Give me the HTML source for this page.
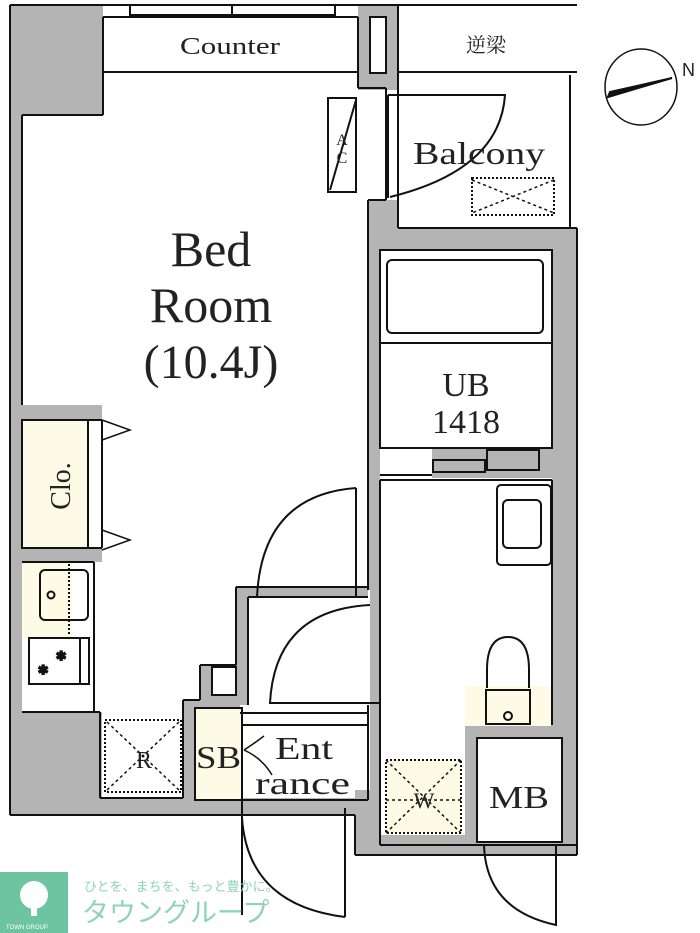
<!DOCTYPE html>
<html><head><meta charset="utf-8"><style>
html,body{margin:0;padding:0;background:#fff;width:700px;height:933px;overflow:hidden}
svg{display:block}
text{font-family:"Liberation Serif","Noto Serif CJK SC",serif;fill:#222}
</style></head><body>
<svg width="700" height="933" viewBox="0 0 700 933" xmlns="http://www.w3.org/2000/svg">
<g fill="#b4b4b4" stroke="none">
<rect x="10" y="5" width="12" height="810"/>
<rect x="10" y="5" width="93" height="110"/>
<rect x="10" y="712" width="92" height="103"/>
<rect x="100" y="798" width="270" height="17"/>
<rect x="358" y="5" width="40" height="85"/>
<rect x="368" y="200" width="30" height="50"/>
<rect x="368" y="200" width="12" height="390"/>
<rect x="368" y="228" width="208" height="22"/>
<rect x="370" y="250" width="10" height="595"/>
<rect x="552" y="228" width="24" height="627"/>
<rect x="355" y="790" width="25" height="65"/>
<rect x="370" y="835" width="206" height="20"/>
<rect x="465" y="725" width="90" height="15"/>
<rect x="465" y="725" width="12" height="125"/>
<rect x="10" y="405" width="92" height="15"/>
<rect x="10" y="548" width="92" height="14"/>
<polygon points="236,587 368,587 368,597 248,597 248,705 240,705 240,713 195,713 195,800 183,800 183,700 200,700 200,665 236,665"/>
<rect x="432" y="448" width="120" height="30"/>
</g>
<rect x="212" y="667" width="24" height="28" fill="#fff"/>
<g fill="#fdfbe6" stroke="none">
<rect x="22" y="420" width="66" height="128"/>
<rect x="22" y="562" width="50" height="76"/>
<rect x="195" y="708" width="47" height="92"/>
<rect x="386" y="760" width="75" height="73"/>
<rect x="465" y="686" width="86" height="40"/>
</g>
<g fill="none" stroke="#111" stroke-width="2">
<line x1="10" y1="5" x2="577" y2="5"/>
<line x1="10" y1="5" x2="10" y2="815"/>
<line x1="22" y1="115" x2="22" y2="405"/>
<line x1="22" y1="115" x2="103" y2="115"/>
<line x1="103" y1="17" x2="103" y2="115"/>
<rect x="130" y="5" width="205" height="10" fill="#fff"/>
<line x1="232" y1="5" x2="232" y2="15"/>
<line x1="103" y1="17" x2="358" y2="17"/>
<line x1="103" y1="72" x2="358" y2="72"/>
<line x1="358" y1="17" x2="358" y2="88"/>
<rect x="370" y="17" width="16" height="56" fill="#fff"/>
<line x1="398" y1="5" x2="398" y2="90"/>
<line x1="398" y1="72" x2="577" y2="72"/>
<line x1="358" y1="88" x2="386" y2="88"/>
<line x1="386" y1="88" x2="386" y2="200"/>
<line x1="368" y1="200" x2="386" y2="200"/>
<line x1="368" y1="200" x2="368" y2="590"/>
<line x1="388" y1="95" x2="388" y2="198"/>
<line x1="398" y1="90" x2="398" y2="228"/>
<line x1="570" y1="75" x2="570" y2="228"/>
<line x1="398" y1="228" x2="577" y2="228"/>
<line x1="577" y1="228" x2="577" y2="855"/>
<rect x="328" y="98" width="28" height="94" fill="#fff"/>
<line x1="356" y1="100" x2="330" y2="190"/>
<path d="M388 95 L505 95 Q500 170 390 197"/>
<rect x="380" y="250" width="172" height="198" fill="#fff"/>
<rect x="387" y="260" width="156" height="73" rx="5"/>
<line x1="380" y1="343" x2="552" y2="343"/>
<rect x="433" y="460" width="52" height="12"/>
<rect x="487" y="450" width="52" height="20"/>
<line x1="380" y1="475" x2="432" y2="475"/>
<line x1="380" y1="480" x2="552" y2="480"/>
<line x1="380" y1="480" x2="380" y2="845"/>
<line x1="552" y1="480" x2="552" y2="725"/>
<rect x="497" y="485" width="54" height="80" rx="4"/>
<rect x="503" y="500" width="38" height="48" rx="5"/>
<path d="M487 688 L487 670 Q487 637 508 637 Q529 637 529 670 L529 688"/>
<rect x="486" y="690" width="44" height="34"/>
<circle cx="508" cy="716" r="4"/>
<line x1="380" y1="845" x2="577" y2="845"/>
<rect x="477" y="738" width="85" height="104" fill="#fff"/>
<rect x="386" y="760" width="75" height="73" stroke-dasharray="2 2"/>
<line x1="386" y1="760" x2="461" y2="833" stroke-dasharray="3 3" stroke-width="1.5"/>
<line x1="461" y1="760" x2="386" y2="833" stroke-dasharray="3 3" stroke-width="1.5"/>
<line x1="386" y1="800" x2="461" y2="800" stroke-dasharray="3 3" stroke-width="1.5"/>
<path d="M484 845 Q486 910 556 925 L556 845"/>
<rect x="472" y="178" width="82" height="37" stroke-dasharray="2 2"/>
<line x1="472" y1="180" x2="554" y2="213" stroke-dasharray="3 3" stroke-width="1.5"/>
<line x1="554" y1="180" x2="472" y2="213" stroke-dasharray="3 3" stroke-width="1.5"/>
<rect x="22" y="420" width="66" height="128"/>
<line x1="88" y1="420" x2="102" y2="420"/>
<line x1="102" y1="420" x2="102" y2="548"/>
<line x1="88" y1="548" x2="102" y2="548"/>
<path d="M102 420 L130 430 L102 440 M102 530 L130 540 L102 550" stroke-width="1.5"/>
<line x1="22" y1="562" x2="94" y2="562"/>
<line x1="22" y1="712" x2="100" y2="712"/>
<line x1="94" y1="562" x2="94" y2="712"/>
<rect x="40" y="570" width="48" height="50" rx="5"/>
<circle cx="51" cy="595" r="3.5"/>
<line x1="69" y1="564" x2="69" y2="636" stroke-dasharray="2 2"/>
<rect x="29" y="638" width="60" height="46"/>
<line x1="80" y1="638" x2="80" y2="684"/>
<text x="56" y="660" font-size="12" fill="#111" style="font-family:'DejaVu Sans',sans-serif">✲</text>
<text x="38" y="674" font-size="12" fill="#111" style="font-family:'DejaVu Sans',sans-serif">✲</text>
<line x1="100" y1="712" x2="100" y2="798"/>
<line x1="100" y1="798" x2="183" y2="798"/>
<line x1="183" y1="700" x2="183" y2="798"/>
<rect x="105" y="720" width="76" height="72" stroke-dasharray="2 2"/>
<line x1="107" y1="722" x2="179" y2="790" stroke-dasharray="3 3" stroke-width="1.5"/>
<line x1="179" y1="722" x2="107" y2="790" stroke-dasharray="3 3" stroke-width="1.5"/>
<line x1="183" y1="700" x2="200" y2="700"/>
<line x1="200" y1="665" x2="200" y2="700"/>
<line x1="200" y1="665" x2="236" y2="665"/>
<line x1="236" y1="587" x2="236" y2="665"/>
<line x1="236" y1="587" x2="368" y2="587"/>
<rect x="212" y="667" width="24" height="28"/>
<rect x="195" y="708" width="47" height="92"/>
<line x1="248" y1="597" x2="248" y2="705"/>
<line x1="248" y1="597" x2="368" y2="597"/>
<line x1="356" y1="488" x2="356" y2="597"/>
<path d="M356 488 Q262 495 257 597"/>
<path d="M370 605 Q275 610 270 703 L380 703"/>
<line x1="240" y1="713" x2="368" y2="713"/>
<line x1="242" y1="725" x2="368" y2="725"/>
<line x1="368" y1="705" x2="368" y2="800"/>
<line x1="242" y1="800" x2="368" y2="800"/>
<line x1="242" y1="713" x2="242" y2="915"/>
<line x1="10" y1="815" x2="355" y2="815"/>
<line x1="355" y1="815" x2="355" y2="855"/>
<line x1="355" y1="855" x2="577" y2="855"/>
<line x1="345" y1="808" x2="345" y2="917"/>
<path d="M242 818 Q248 905 345 917"/>
<path d="M244 750 Q252 745 264 736 M244 750 Q262 758 272 775" stroke-width="1.5"/>
<ellipse cx="641" cy="87" rx="36" ry="38" stroke-width="1.5"/>
<path d="M608 97 L672 78 L610 92 Z" fill="#111"/>
</g>
<text x="180" y="54" font-size="24" textLength="100" lengthAdjust="spacingAndGlyphs">Counter</text>
<text x="486" y="52" font-size="20" text-anchor="middle">逆梁</text>
<text x="682" y="76" font-size="18" style="font-family:'Liberation Sans',sans-serif">N</text>
<text x="342" y="145" font-size="16" text-anchor="middle">A</text>
<text x="342" y="163" font-size="16" text-anchor="middle">C</text>
<text x="413" y="164" font-size="32" textLength="132" lengthAdjust="spacingAndGlyphs">Balcony</text>
<text x="211" y="266" font-size="50" text-anchor="middle">Bed</text>
<text x="211" y="322" font-size="50" text-anchor="middle">Room</text>
<text x="211" y="378" font-size="48" text-anchor="middle">(10.4J)</text>
<text x="466" y="396" font-size="34" text-anchor="middle">UB</text>
<text x="466" y="433" font-size="34" text-anchor="middle">1418</text>
<text transform="translate(70,486) rotate(-90)" font-size="28" text-anchor="middle">Clo.</text>
<text x="144" y="768" font-size="24" text-anchor="middle">R</text>
<text x="196" y="768" font-size="32" textLength="45" lengthAdjust="spacingAndGlyphs">SB</text>
<text x="275" y="759" font-size="32" textLength="58" lengthAdjust="spacingAndGlyphs">Ent</text>
<text x="255" y="794" font-size="32" textLength="95" lengthAdjust="spacingAndGlyphs">rance</text>
<text x="424" y="808" font-size="22" text-anchor="middle">W</text>
<text x="489" y="808" font-size="32" textLength="60" lengthAdjust="spacingAndGlyphs">MB</text>
<rect x="0" y="872" width="68" height="61" fill="#6cc4a0"/>
<circle cx="34" cy="895" r="14" fill="#fff"/>
<rect x="31" y="900" width="6" height="16" fill="#fff"/>
<text x="6" y="929" font-size="6" style="fill:#fff;font-family:'Liberation Sans',sans-serif">TOWN GROUP</text>
<text x="84" y="891" font-size="13" style="fill:#8fd3b6;font-family:'Liberation Sans','Noto Sans CJK JP',sans-serif">ひとを、まちを、もっと豊かに。</text>
<text x="82" y="922" font-size="27" style="fill:#8fd3b6;font-family:'Liberation Sans','Noto Sans CJK JP',sans-serif">タウングループ</text>
</svg>
</body></html>
